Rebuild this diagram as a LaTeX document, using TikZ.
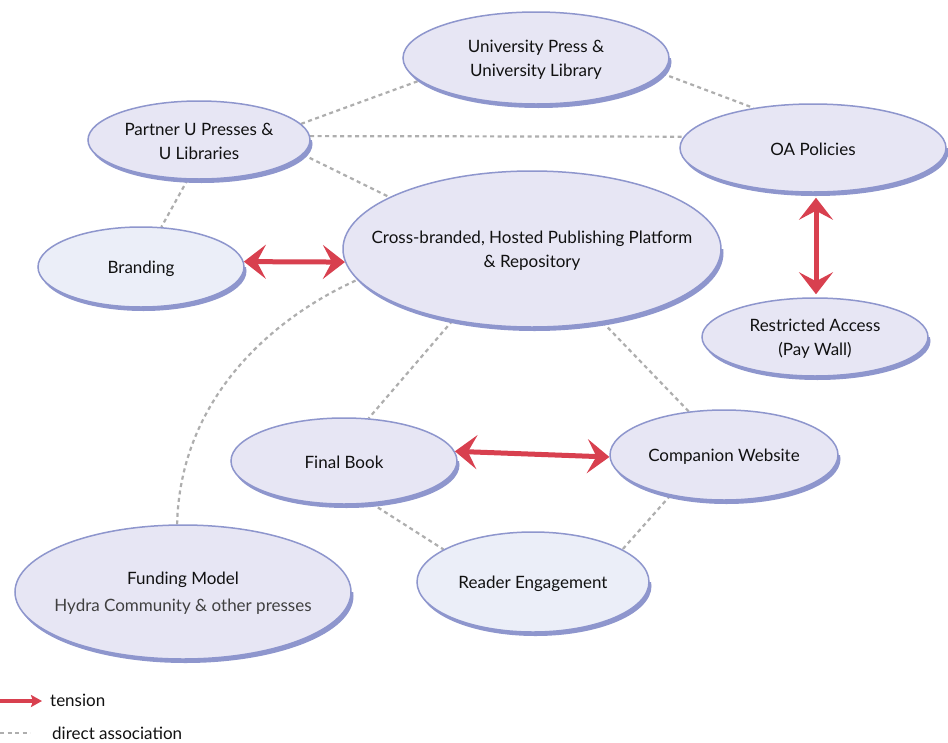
\documentclass[tikz,border=0pt]{standalone}
\usepackage{fontspec}
\setmainfont{Lato}
\usetikzlibrary{arrows.meta,backgrounds,calc,shapes.geometric}
\definecolor{bord}{HTML}{8E96CD}
\definecolor{fillA}{HTML}{E7E6F4}
\definecolor{fillB}{HTML}{EBEEF8}
\definecolor{assocgrey}{HTML}{AEAEAE}
\definecolor{tens}{HTML}{D8404F}
\definecolor{txt}{HTML}{111111}
\definecolor{subtxt}{HTML}{404040}
\tikzset{
  bubble/.style={ellipse, draw=bord, line width=1.5pt, inner sep=0pt},
  bubtext/.style={align=center, text=txt, inner sep=0pt, font=\fontsize{17}{24}\selectfont},
  assoc/.style={draw=assocgrey, line width=2.2pt, dash pattern=on 4pt off 3.5pt},
  tensarrow/.style={draw=tens, line width=5pt,
    {Stealth[length=22pt,width=34pt,inset=9pt]}-{Stealth[length=22pt,width=34pt,inset=9pt]}},
  legtext/.style={text=txt, inner sep=0pt, font=\fontsize{17}{20}\selectfont, anchor=west},
}
\newcommand\bub[7]{%
  \begin{scope}
    \clip (#2-#4-6,#3) rectangle (#2+#4+8,#3+#5+8);
    \fill[bord] (#2+2.5,#3+4) ellipse [x radius=#4, y radius=#5];
  \end{scope}
  \node[bubble, fill=#6, minimum width=2*#4, minimum height=2*#5] (#1) at (#2,#3) {};
  \node[bubtext] (#1t) at (#2,#3+1.5) {#7};
}
\begin{document}
\begin{tikzpicture}[x=1pt,y=-1pt]
\useasboundingbox (0,0) rectangle (948,742);

\bub{up}{536}{58}{133}{46}{fillA}{University Press \&\\University Library}
\bub{pp}{199}{140}{111}{39}{fillA}{Partner U Presses \&\\U Libraries}
\bub{oa}{813}{148}{133}{44}{fillA}{OA Policies}
\bub{br}{141}{267}{103}{40}{fillB}{Branding}
\bub{cb}{532}{249}{189}{78}{fillA}{Cross-branded, Hosted Publishing Platform\\\& Repository}
\bub{ra}{815}{337}{113}{39}{fillA}{Restricted Access\\(Pay Wall)}
\bub{fb}{344}{461}{113}{43}{fillA}{Final Book}
\bub{cw}{724}{455}{114}{45}{fillA}{Companion Website}
\bub{re}{533}{582}{116}{50}{fillB}{Reader Engagement}
\bub{fm}{183}{592}{168}{67}{fillA}{Funding Model\\[3pt]{\color{subtxt}Hydra Community \& other presses}}

\begin{pgfonlayer}{background}
  \fill[white] (0,0) rectangle (948,742);
  \draw[assoc] (pp.9) -- (up.191);
  \draw[assoc] (pp.2) -- (oa.175);
  \draw[assoc] (pp.-8) -- (cb.160);
  \draw[assoc] (pp.-106) -- (br.63);
  \draw[assoc] (up.-7) -- (oa.146);
  \draw[assoc] (cb.222) -- (fb.60);
  \draw[assoc] (cb.-46) -- (cw.129);
  \draw[assoc] (fb.-57) -- (re.160);
  \draw[assoc] (cw.217) -- (re.20);
  \draw[assoc] (fm.95) .. controls +(3,-123) and +(-89,40) .. (cb.190);
\end{pgfonlayer}

\draw[tensarrow] (br.3) -- (cb.184);
\draw[tensarrow] ([xshift=3pt,yshift=-5pt]oa.south) -- ([xshift=1pt,yshift=3pt]ra.north);
\draw[tensarrow] (fb.5) -- (cw.181);

% legend
\coordinate (lt0) at (0,701);
\coordinate (lt1) at (42,701);
\draw[draw=tens, line width=3.5pt, -{Stealth[length=11pt,width=12pt,inset=2pt]}] (lt0) -- (lt1);
\node[legtext] (ltx) at (50,700) {tension};
\coordinate (ld0) at (0,733);
\coordinate (ld1) at (30,733);
\draw[assoc, line width=1.6pt] (ld0) -- (ld1);
\node[legtext] (ldx) at (52,733) {direct association};
\end{tikzpicture}
\end{document}
